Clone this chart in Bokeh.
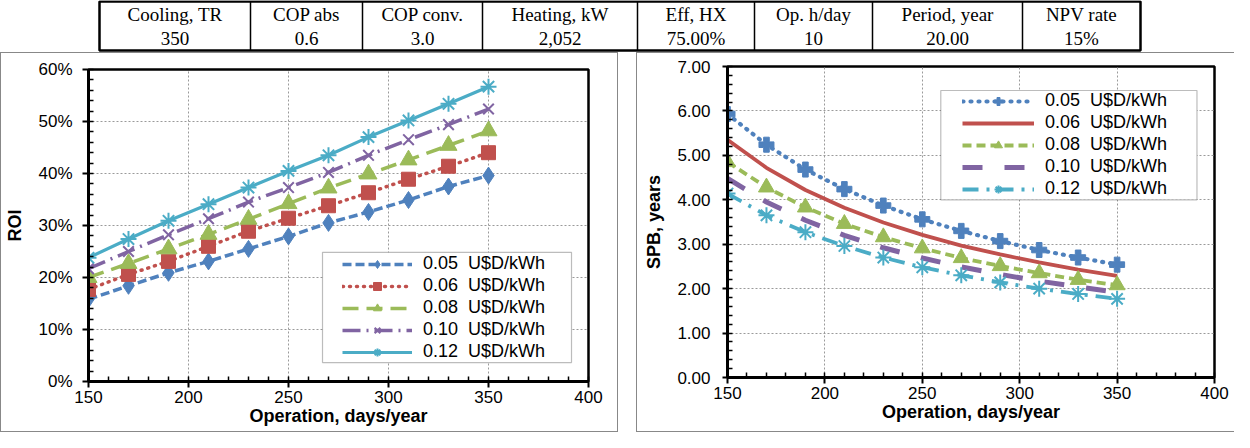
from bokeh.plotting import figure
from bokeh.models import (Range1d, SingleIntervalTicker, PrintfTickFormatter, Legend,
                          LegendItem, BoxAnnotation, Spacer)
from bokeh.layouts import column, row
from bokeh.core.properties import value
from bokeh.embed import file_html
from bokeh.resources import INLINE

# ---------------- data ----------------
days = [150, 170, 190, 210, 230, 250, 270, 290, 310, 330, 350]
price_labels = ["0.05\u00a0 U$D/kWh", "0.06\u00a0 U$D/kWh", "0.08\u00a0 U$D/kWh",
                "0.10\u00a0 U$D/kWh", "0.12\u00a0 U$D/kWh"]

roi_005 = [15.8, 18.4, 20.9, 23.1, 25.5, 27.9, 30.5, 32.6, 34.9, 37.5, 39.6]
roi_006 = [17.7, 20.6, 23.1, 26.0, 28.9, 31.4, 33.8, 36.3, 38.9, 41.4, 44.0]
roi_008 = [20.0, 22.7, 25.5, 28.3, 31.2, 34.2, 37.2, 39.9, 42.6, 45.4, 48.2]
roi_010 = [21.7, 25.0, 28.2, 31.3, 34.5, 37.3, 40.2, 43.5, 46.5, 49.4, 52.4]
roi_012 = [23.8, 27.4, 30.9, 34.1, 37.3, 40.5, 43.5, 47.0, 50.2, 53.4, 56.7]

spb_005 = [5.93, 5.24, 4.68, 4.24, 3.87, 3.56, 3.30, 3.07, 2.87, 2.70, 2.54]
spb_006 = [5.35, 4.72, 4.22, 3.82, 3.49, 3.21, 2.97, 2.77, 2.59, 2.43, 2.29]
spb_008 = [4.85, 4.28, 3.83, 3.46, 3.16, 2.91, 2.69, 2.51, 2.35, 2.20, 2.08]
spb_010 = [4.48, 3.95, 3.54, 3.20, 2.92, 2.69, 2.49, 2.32, 2.17, 2.04, 1.92]
spb_012 = [4.14, 3.65, 3.27, 2.96, 2.70, 2.48, 2.30, 2.14, 2.00, 1.88, 1.77]

table_headers = ["Cooling, TR", "COP abs", "COP conv.", "Heating, kW", "Eff, HX",
                 "Op. h/day", "Period, year", "NPV rate"]
table_values = ["350", "0.6", "3.0", "2,052", "75.00%", "10", "20.00", "15%"]

# ---------------- styles ----------------
BLUE, RED, GREEN, PURPLE, CYAN = "#4F81BD", "#C0504D", "#9BBB59", "#8064A2", "#4BACC6"
SANS = "Liberation Sans"
SERIF = "Liberation Serif"
FRAME_GRAY = "#888888"

roi_styles = [
    dict(color=BLUE, dash="9 4", width=3.5, cap="butt", marker="diamond", size=17, mlw=1),
    dict(color=RED, dash="1 6", width=3.5, cap="round", marker="square", size=14, mlw=1),
    dict(color=GREEN, dash="16 8", width=3.5, cap="butt", marker="triangle", size=17, mlw=1),
    dict(color=PURPLE, dash="18 6 2 6", width=3.5, cap="butt", marker="x", size=15, mlw=2),
    dict(color=CYAN, dash="solid", width=3.2, cap="butt", marker="asterisk", size=16, mlw=2),
]
spb_styles = [
    dict(color=BLUE, dash="1 7", width=4.2, cap="round", marker="plus", size=15, mlw=1),
    dict(color=RED, dash="solid", width=3.8, cap="butt", marker=None, size=0, mlw=1),
    dict(color=GREEN, dash="9 5", width=3.8, cap="butt", marker="triangle", size=16, mlw=1),
    dict(color=PURPLE, dash="20 22", width=5, cap="butt", marker=None, size=0, mlw=1),
    dict(color=CYAN, dash="16 8 3 8", width=3.8, cap="butt", marker="asterisk", size=16, mlw=2),
]


def style_axes(p, ylabel, yint, yfmt):
    xt = SingleIntervalTicker(interval=50, num_minor_ticks=5)
    yt = SingleIntervalTicker(interval=yint, num_minor_ticks=5)
    p.xaxis.ticker = xt
    p.yaxis.ticker = yt
    p.xgrid.ticker = xt
    p.ygrid.ticker = yt
    p.yaxis.formatter = PrintfTickFormatter(format=yfmt)
    p.xaxis.axis_label = "Operation, days/year"
    p.yaxis.axis_label = ylabel
    for ax in (p.xaxis, p.yaxis):
        ax.axis_line_width = 3
        ax.axis_line_color = "black"
        ax.major_tick_in = 0
        ax.major_tick_out = 6
        ax.major_tick_line_width = 2
        ax.major_tick_line_color = "black"
        ax.minor_tick_in = 5
        ax.minor_tick_out = 0
        ax.minor_tick_line_width = 1.5
        ax.minor_tick_line_color = "black"
        ax.major_label_text_font = SANS
        ax.major_label_text_font_size = "17px"
        ax.major_label_text_color = "black"
        ax.axis_label_text_font = SANS
        ax.axis_label_text_font_size = "18px"
        ax.axis_label_text_font_style = "bold"
        ax.axis_label_text_color = "black"
    p.xaxis.major_label_standoff = 3
    p.xaxis.axis_label_standoff = 0
    p.yaxis.major_label_standoff = 10
    p.yaxis.axis_label_standoff = 10
    for g in (p.xgrid, p.ygrid):
        g.grid_line_color = "#9a9a9a"
        g.grid_line_dash = "2 2"
        g.grid_line_width = 1
    p.outline_line_color = "black"
    p.outline_line_width = 2.5
    p.background_fill_color = "white"
    p.border_fill_color = "white"


def add_series(p, series, styles):
    items = []
    for ys, st, lab in zip(series, styles, price_labels):
        rs = [p.line(days, ys, line_color=st["color"], line_width=st["width"],
                     line_dash=st["dash"], line_cap=st["cap"])]
        if st["marker"]:
            rs.append(p.scatter(days, ys, marker=st["marker"], size=st["size"],
                                fill_color=st["color"], line_color=st["color"],
                                line_width=st["mlw"]))
        items.append(LegendItem(label=lab, renderers=rs))
    return items


def add_legend(p, items, loc, glyph_w, box):
    p.add_layout(BoxAnnotation(left=box[0], right=box[1], bottom=box[2], top=box[3],
                               fill_color="white", fill_alpha=1.0,
                               line_color="#222222", line_width=1.2))
    leg = Legend(items=items, location=loc, padding=2, spacing=1, margin=0,
                 glyph_width=glyph_w, glyph_height=20, label_height=20,
                 label_standoff=11, label_text_font=SANS, label_text_font_size="18px",
                 label_text_color="black", border_line_color=None,
                 background_fill_alpha=0)
    p.add_layout(leg)


# ---------------- table ----------------
W = 1234
TH = 52
tab = figure(width=W, height=TH, x_range=Range1d(0, W), y_range=Range1d(0, TH),
             toolbar_location=None, output_backend="svg", min_border=0,
             x_axis_location=None, y_axis_location=None)
tab.grid.visible = False
tab.outline_line_color = None
edges = [99, 250, 362, 482, 637, 754, 872, 1022, 1140]
centers = [(a + b) / 2 for a, b in zip(edges[:-1], edges[1:])]
tab.segment(x0=edges[1:-1], y0=[2] * 7, x1=edges[1:-1], y1=[51] * 7,
            line_color="black", line_width=1.5)
tab.quad(left=edges[0], right=edges[-1], bottom=2, top=51, fill_color=None,
         line_color="black", line_width=2.5)
tab.text(x=centers, y=[38.5] * 8, text=table_headers, text_align="center",
         text_baseline="middle", text_font=value(SERIF), text_font_size="19px",
         text_color="black")
tab.text(x=centers, y=[14.5] * 8, text=table_values, text_align="center",
         text_baseline="middle", text_font=value(SERIF), text_font_size="19px",
         text_color="black")

# ---------------- left chart (ROI) ----------------
CH = 378
p1 = figure(width=616, height=CH, x_range=Range1d(150, 400), y_range=Range1d(0, 60),
            toolbar_location=None, output_backend="svg",
            min_border_left=87, min_border_right=29, min_border_top=16,
            min_border_bottom=CH - 16 - 312)
style_axes(p1, "ROI", 10, "%d%%")
items1 = add_series(p1, [roi_005, roi_006, roi_008, roi_010, roi_012], roi_styles)
add_legend(p1, items1, (254, 19), 70, (267, 391.5, 3.63, 24.84))

# ---------------- right chart (SPB) ----------------
p2 = figure(width=597, height=CH, x_range=Range1d(150, 400), y_range=Range1d(0, 7),
            toolbar_location=None, output_backend="svg",
            min_border_left=90, min_border_right=20, min_border_top=13,
            min_border_bottom=CH - 13 - 311)
style_axes(p2, "SPB, years", 1, "%.2f")
p2.yaxis.major_label_standoff = 12
p2.yaxis.major_tick_out = 5
items2 = add_series(p2, [spb_005, spb_006, spb_008, spb_010, spb_012], spb_styles)
add_legend(p2, items2, (235, 178), 72, (259.5, 391, 4.0, 6.46))

# ---------------- frames ----------------
def hline(w):
    return Spacer(width=w, height=1, styles={"background-color": FRAME_GRAY})


def vline(h):
    return Spacer(width=1, height=h, styles={"background-color": FRAME_GRAY})


left_block = row(vline(CH + 2), column(hline(616), p1, hline(616)), vline(CH + 2))
gap = Spacer(width=18, height=CH + 2)
right_block = row(vline(CH + 2), column(hline(597), p2, hline(597)))
layout = column(tab, row(left_block, gap, right_block))

open("out.html", "w").write(file_html(layout, INLINE))
